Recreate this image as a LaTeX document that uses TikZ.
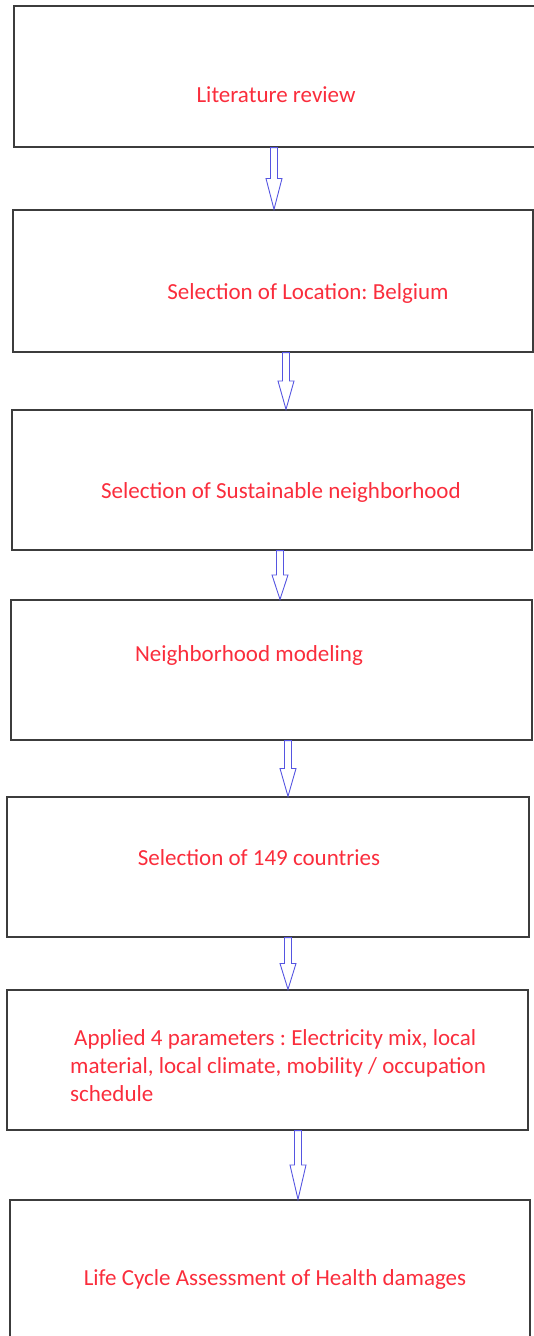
\documentclass[tikz,border=0pt]{standalone}
\usepackage{fontspec}
\setmainfont{Carlito}
\frenchspacing
\usetikzlibrary{calc}
\definecolor{steptext}{RGB}{250,45,60}
\definecolor{arrowblue}{RGB}{85,85,225}
\definecolor{boxline}{RGB}{60,60,60}
\tikzset{
  stepbox/.style={draw=boxline, line width=1.3pt, rectangle, inner sep=0pt},
  steplabel/.style={text=steptext, font=\fontsize{23}{28}\selectfont, inner sep=0pt},
  arrowline/.style={draw=arrowblue, line width=0.9pt, line join=miter},
}
% hollow block arrow from the bottom of one box to the top of the next
\newcommand\flowarrow[3]{%
  \draw[arrowline] let \p1=(#1.south), \p2=(#2.north), \n1={(\y1-\y2)/2} in
    (#3-3.5,\y1) -- (#3+3.5,\y1) -- (#3+3.5,\y2+\n1) -- (#3+8,\y2+\n1)
    -- (#3,\y2) -- (#3-8,\y2+\n1) -- (#3-3.5,\y2+\n1) -- cycle;}
\begin{document}
\begin{tikzpicture}[x=1pt,y=-1pt]
	\useasboundingbox (0,0) rectangle (534,1336);
	\clip (0,0) rectangle (534,1336);
	
	% boxes
	\node[stepbox, minimum width=524pt, minimum height=141pt] (lit) at (276,76.5) {};
	\node[stepbox, minimum width=520pt, minimum height=142pt] (loc) at (273,281) {};
	\node[stepbox, minimum width=520pt, minimum height=140pt] (sus) at (272,480) {};
	\node[stepbox, minimum width=521pt, minimum height=140pt] (mod) at (271.5,670) {};
	\node[stepbox, minimum width=522pt, minimum height=140pt] (cty) at (268,867) {};
	\node[stepbox, minimum width=521pt, minimum height=140pt] (par) at (267.5,1060) {};
	\node[stepbox, minimum width=520pt, minimum height=160pt] (lca) at (270,1280) {};
	
	% texts
	\node[steplabel] (litT) at (276,95) {Literature review};
	\node[steplabel] (locT) at (308,293) {Selection of Location: Belgium};
	\node[steplabel] (susT) at (281,492) {Selection of Sustainable neighborhood};
	\node[steplabel] (modT) at (249,655) {Neighborhood modeling};
	\node[steplabel] (ctyT) at (259,858) {Selection of 149 countries};
	\node[steplabel, align=left, anchor=west] (parT) at (70,1066)
		{\hspace{4pt}Applied 4 parameters : Electricity mix, local\\
		 material, local climate, mobility / occupation\\
		 schedule};
	\node[steplabel] (lcaT) at (275,1279) {Life Cycle Assessment of Health damages};
	
	% arrows
	\flowarrow{lit}{loc}{274}
	\flowarrow{loc}{sus}{286}
	\flowarrow{sus}{mod}{280}
	\flowarrow{mod}{cty}{288}
	\flowarrow{cty}{par}{288}
	\flowarrow{par}{lca}{298}
\end{tikzpicture}
\end{document}
